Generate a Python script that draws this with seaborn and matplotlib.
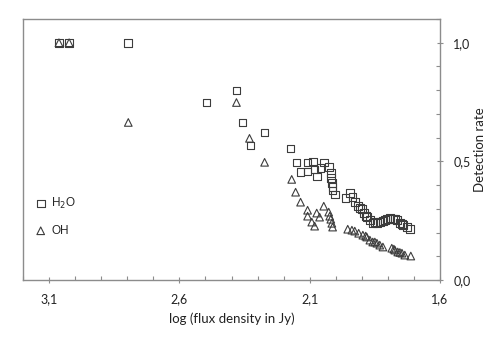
import numpy as np
import pandas as pd
import seaborn as sns
import matplotlib.pyplot as plt
from matplotlib.ticker import MultipleLocator, FuncFormatter

# H2O detection rate vs log flux
h2o_logflux = [3.062, 3.023, 2.796, 2.496, 2.381, 2.358, 2.273, 2.327, 2.173,
               2.150, 2.108, 2.088, 2.046, 2.135, 2.108, 2.081, 2.058, 2.073,
               2.027, 2.019, 2.019, 2.015, 2.012, 2.012, 2.004,
               1.962, 1.946, 1.935, 1.927, 1.915, 1.908, 1.900, 1.892, 1.885,
               1.881, 1.869, 1.858, 1.850, 1.842, 1.831, 1.819, 1.812, 1.804,
               1.792, 1.781, 1.773, 1.765, 1.754, 1.746, 1.742, 1.727, 1.715]
h2o_rate = [1.0, 1.0, 1.0, 0.748, 0.798, 0.664, 0.622, 0.567, 0.555,
            0.496, 0.496, 0.500, 0.496, 0.454, 0.458, 0.466, 0.471, 0.437,
            0.475, 0.450, 0.429, 0.408, 0.391, 0.378, 0.361,
            0.345, 0.366, 0.349, 0.328, 0.311, 0.303, 0.298, 0.282, 0.269,
            0.265, 0.252, 0.239, 0.244, 0.239, 0.244, 0.248, 0.252, 0.256,
            0.261, 0.256, 0.256, 0.252, 0.239, 0.235, 0.231, 0.223, 0.214]

# OH detection rate vs log flux
oh_logflux = [3.062, 3.023, 2.796, 2.381, 2.331, 2.273, 2.169, 2.154, 2.135,
              2.108, 2.108, 2.073, 2.062, 2.046, 2.092, 2.081, 2.027, 2.023,
              2.019, 2.015, 2.012,
              1.954, 1.938, 1.927, 1.912, 1.896, 1.885, 1.881, 1.869, 1.858,
              1.850, 1.842, 1.831, 1.819, 1.785, 1.777, 1.773, 1.762, 1.754,
              1.746, 1.735, 1.712]
oh_rate = [1.0, 1.0, 0.664, 0.748, 0.597, 0.496, 0.424, 0.370, 0.328,
           0.294, 0.269, 0.282, 0.265, 0.311, 0.244, 0.227, 0.286, 0.269,
           0.256, 0.239, 0.223,
           0.214, 0.210, 0.206, 0.197, 0.189, 0.185, 0.181, 0.168, 0.160,
           0.160, 0.155, 0.147, 0.139, 0.134, 0.130, 0.126, 0.118, 0.116,
           0.113, 0.105, 0.101]

x_ticks = [3.1, 2.6, 2.1, 1.6]
y_ticks = [0.0, 0.5, 1.0]

h2o = pd.DataFrame({'logflux': h2o_logflux, 'rate': h2o_rate})
oh = pd.DataFrame({'logflux': oh_logflux, 'rate': oh_rate})

sns.set_style('white')
plt.rcParams['font.family'] = ['Lato', 'DejaVu Sans']

fig = plt.figure(figsize=(4.91, 3.44), dpi=100)
ax = fig.add_axes([23 / 491, 64 / 344, 417 / 491, 261 / 344])

edge = '#3c3c3c'
sns.scatterplot(data=h2o, x='logflux', y='rate', marker='s', s=30,
                facecolors='none', edgecolor=edge, linewidth=0.8,
                label='H$_2$O', ax=ax)
sns.scatterplot(data=oh, x='logflux', y='rate', marker='^', s=30,
                facecolors='none', edgecolor=edge, linewidth=0.8,
                label='OH', ax=ax)

ax.set_xlim(3.2, 1.6)
ax.set_ylim(0, 1.1)
ax.set_xticks(x_ticks)
ax.set_yticks(y_ticks)
ax.xaxis.set_minor_locator(MultipleLocator(0.1))
ax.yaxis.set_minor_locator(MultipleLocator(0.1))
comma = FuncFormatter(lambda v, p: '{:.1f}'.format(v).replace('.', ','))
ax.xaxis.set_major_formatter(comma)
ax.yaxis.set_major_formatter(comma)
ax.yaxis.tick_right()
ax.yaxis.set_label_position('right')

for sp in ax.spines.values():
    sp.set_color('#8c8c8c')
    sp.set_linewidth(1.0)
ax.tick_params(which='major', direction='inout', length=5, width=0.8,
               color='#8c8c8c', labelsize=9, labelcolor='#222222', pad=7)
ax.tick_params(which='minor', direction='in', length=3, width=0.8,
               color='#8c8c8c')
ax.tick_params(axis='x', which='both', bottom=True, top=False)
ax.tick_params(axis='y', which='both', right=True, left=False)

ax.set_xlabel('log (flux density in Jy)', fontsize=9.5, color='#222222', labelpad=5)
ax.set_ylabel('Detection rate', fontsize=9.5, color='#222222')
ax.yaxis.label.set_va('center')
ax.yaxis.set_label_coords(1.096, 0.5)

leg = ax.legend(loc='lower left', bbox_to_anchor=(0.0, 0.12), frameon=False,
                handlelength=1.0, handletextpad=0.4, labelspacing=1.2,
                borderpad=0.5, prop={'family': ['Liberation Sans'], 'size': 8.5})

fig.savefig('out.png', dpi=100, facecolor='white')
